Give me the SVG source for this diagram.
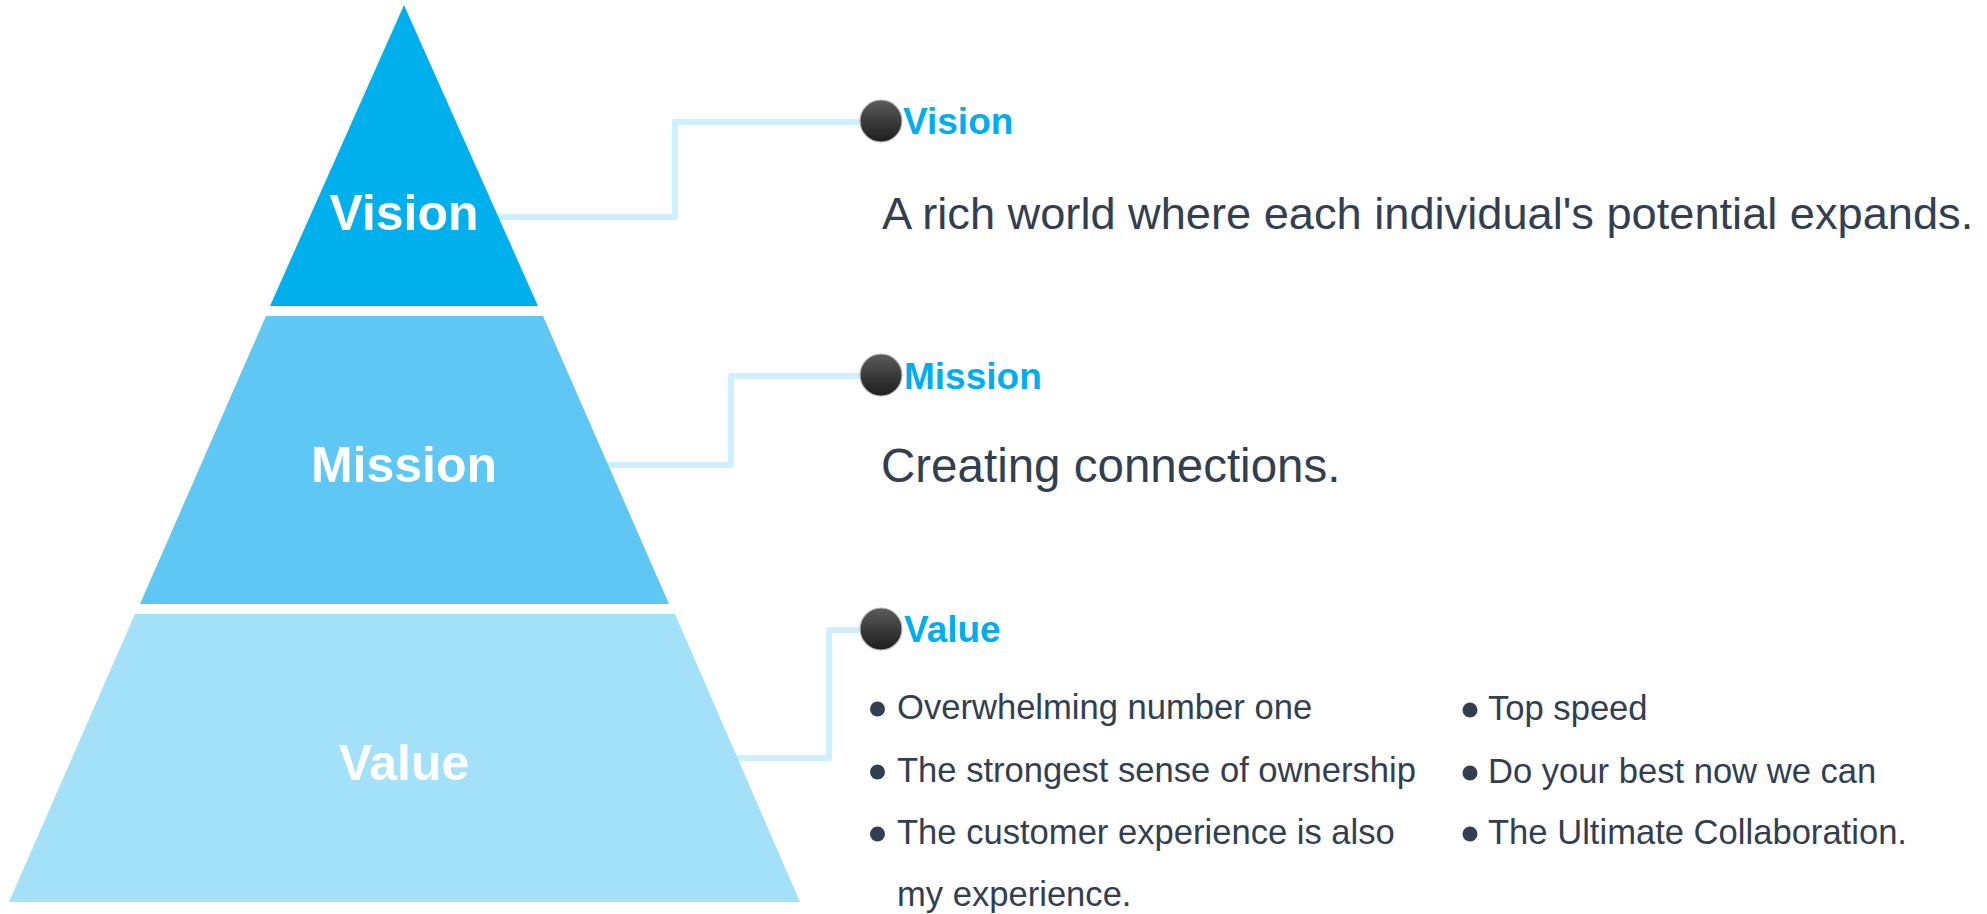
<svg xmlns="http://www.w3.org/2000/svg" width="1987" height="914" viewBox="0 0 1987 914">
  <style>
    .tier-label { font-family: "Liberation Sans", Arial, sans-serif; font-weight: bold; font-size: 50px; fill: #ffffff; text-anchor: middle; }
    .head { font-family: "Liberation Sans", Arial, sans-serif; font-weight: bold; font-size: 37px; fill: #00AEEF; }
    .desc { font-family: "Liberation Sans", Arial, sans-serif; font-size: 45.2px; fill: #323F50; }
    .desc-lg { font-family: "Liberation Sans", Arial, sans-serif; font-size: 47.5px; fill: #323F50; }
    .item { font-family: "Liberation Sans", Arial, sans-serif; font-size: 34.6px; fill: #323F50; }
    .dot { fill: #323F50; }
    .link { fill: none; stroke: #CCF0FD; stroke-width: 6; stroke-linejoin: round; stroke-linecap: butt; }
    .ball { fill: url(#ballFill); stroke: #b8b8b8; stroke-width: 1.2; }
  </style>
  <defs>
    <linearGradient id="ballFill" x1="0" y1="0" x2="0" y2="1">
      <stop offset="0" stop-color="#5c5c5c"/>
      <stop offset="0.55" stop-color="#383838"/>
      <stop offset="1" stop-color="#1e1e1e"/>
    </linearGradient>
  </defs>

  <rect width="1987" height="914" fill="#ffffff"/>

  <!-- elbow connectors from each tier to its heading -->
  <g id="connectors">
    <polyline class="link" points="404,217 675,217 675,122 862,122"/>
    <polyline class="link" points="404,465 731,465 731,376 862,376"/>
    <polyline class="link" points="404,758 829,758 829,630 862,630"/>
  </g>

  <!-- pyramid tiers -->
  <g id="tier-vision">
    <polygon points="404,5 538,306 270,306" fill="#00B0EC"/>
    <text class="tier-label" x="404" y="230">Vision</text>
  </g>
  <g id="tier-mission">
    <polygon points="266,316 543,316 669,604 140,604" fill="#5FC7F4"/>
    <text class="tier-label" x="404" y="482">Mission</text>
  </g>
  <g id="tier-value">
    <polygon points="135,614 675,614 800,902 9,902" fill="#A2E1F7"/>
    <text class="tier-label" x="404" y="780">Value</text>
  </g>

  <!-- Vision heading and statement -->
  <g id="vision">
    <circle class="ball" cx="881" cy="121" r="21"/>
    <text class="head" x="903" y="134">Vision</text>
    <text class="desc" x="882" y="229">A rich world where each individual's potential expands.</text>
  </g>

  <!-- Mission heading and statement -->
  <g id="mission">
    <circle class="ball" cx="881" cy="375" r="21"/>
    <text class="head" x="904" y="389">Mission</text>
    <text class="desc-lg" x="881" y="482">Creating connections.</text>
  </g>

  <!-- Value heading and list -->
  <g id="value">
    <circle class="ball" cx="881" cy="629" r="21"/>
    <text class="head" x="904" y="642">Value</text>

    <circle class="dot" cx="877.5" cy="709" r="7.5"/>
    <text class="item" x="897" y="719">Overwhelming number one</text>
    <circle class="dot" cx="877.5" cy="772" r="7.5"/>
    <text class="item" x="897" y="782">The strongest sense of ownership</text>
    <circle class="dot" cx="877.5" cy="834" r="7.5"/>
    <text class="item" x="897" y="844">The customer experience is also</text>
    <text class="item" x="897" y="906">my experience.</text>

    <circle class="dot" cx="1470" cy="710" r="7.5"/>
    <text class="item" x="1488" y="720">Top speed</text>
    <circle class="dot" cx="1470" cy="773" r="7.5"/>
    <text class="item" x="1488" y="783">Do your best now we can</text>
    <circle class="dot" cx="1470" cy="834" r="7.5"/>
    <text class="item" x="1488" y="844">The Ultimate Collaboration.</text>
  </g>
</svg>
